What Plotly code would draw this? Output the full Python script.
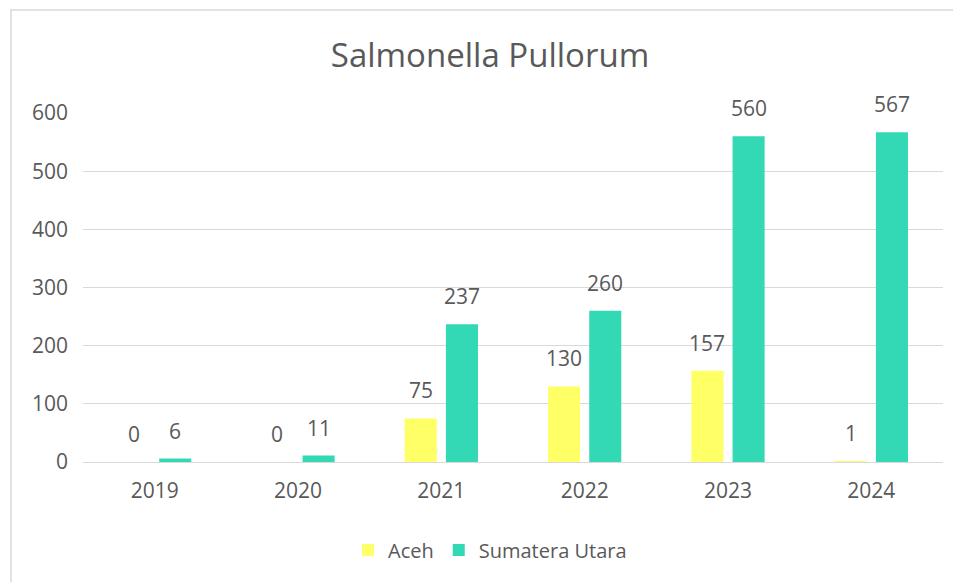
import plotly.graph_objects as go

years = ["2019", "2020", "2021", "2022", "2023", "2024"]
aceh = [0, 0, 75, 130, 157, 1]
sumut = [6, 11, 237, 260, 560, 567]
series_names = ["Aceh", "Sumatera Utara"]
colors = ["#FFFF66", "#33D9B5"]

FONT = "Open Sans"
TXT = "#595959"

fig = go.Figure()
fig.add_trace(go.Bar(x=years, y=aceh, name=series_names[0], marker=dict(color=colors[0], line=dict(width=0))))
fig.add_trace(go.Bar(x=years, y=sumut, name=series_names[1], marker=dict(color=colors[1], line=dict(width=0))))

OFF = 8  # page body margin
W, H = 961 - OFF, 582 - OFF
ml, mr, mt, mb = 83 - OFF, 18, 113 - OFF, 120
pw = W - ml - mr
ph = H - mt - mb
bargap = 0.425
cat_px = pw / len(years)
shift = (1 - bargap) / 4 * cat_px

annotations = []
for vals, sgn in ((aceh, -1), (sumut, 1)):
    for i, v in enumerate(vals):
        # category serial index i on the category axis
        annotations.append(dict(x=i, y=v, xref="x", yref="y", text=str(v), showarrow=False,
                                xshift=sgn * shift, yshift=28, yanchor="middle",
                                font=dict(family=FONT, size=21, color=TXT)))

def py(page_y):
    return (mt + ph - (page_y - OFF)) / ph

fig.update_layout(
    width=W, height=H,
    margin=dict(l=ml, r=mr, t=mt, b=mb),
    paper_bgcolor="white", plot_bgcolor="white",
    barmode="group", bargap=bargap, bargroupgap=0.222,
    title=dict(text="Salmonella Pullorum", x=(490 - OFF) / W, xanchor="center", y=1 - (55 - OFF) / H, yanchor="middle",
               font=dict(family=FONT, size=33, color=TXT)),
    xaxis=dict(type="category", range=[-0.5, len(years) - 0.5], autorange=False,
               showgrid=False, showline=False, ticks="",
               tickfont=dict(family=FONT, size=21, color=TXT), ticklabelstandoff=14),
    yaxis=dict(range=[0, 600], autorange=False, dtick=100, showgrid=True, gridcolor="#D9D9D9", gridwidth=1,
               zeroline=True, zerolinecolor="#D9D9D9", zerolinewidth=1, showline=False, ticks="",
               tickfont=dict(family=FONT, size=21, color=TXT), ticklabelstandoff=14),
    legend=dict(orientation="h", x=(490 - OFF - ml) / pw, xanchor="center", y=py(550), yanchor="middle",
                font=dict(family=FONT, size=20, color=TXT), traceorder="normal"),
    annotations=annotations,
    shapes=[dict(type="rect", xref="paper", yref="paper",
                 x0=(11 - OFF - ml) / pw, x1=(W + 5 - ml) / pw,
                 y0=(mt + ph - (H + 5)) / ph, y1=py(10),
                 line=dict(color="#D9D9D9", width=1.5), layer="below")],
)

fig.write_html("out.html")
